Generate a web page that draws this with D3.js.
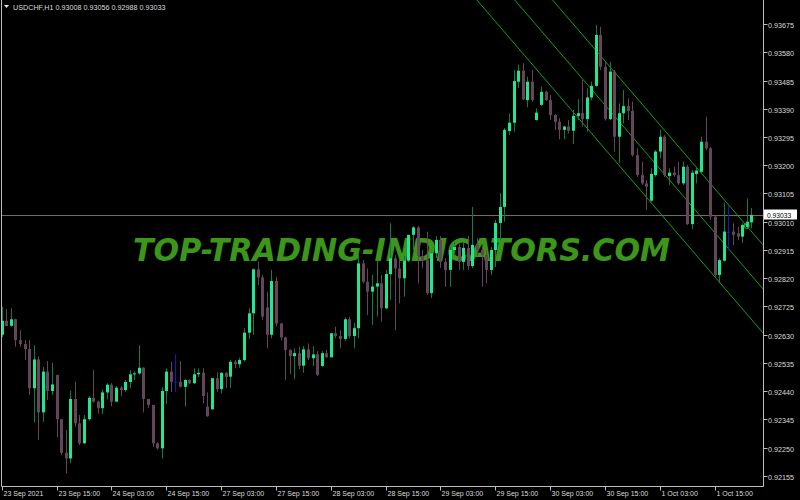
<!DOCTYPE html>
<html><head><meta charset="utf-8">
<script src="https://cdn.jsdelivr.net/npm/d3@7"></script>
<style>html,body{margin:0;padding:0;background:#000;}svg{display:block;}</style>
</head><body>
<svg id="chart" width="800" height="500"></svg>
<script>
// ---------- DATA ----------
const symbol = "USDCHF,H1";
const opens = [0.92630,0.92677,0.92660,0.92682,0.92612,0.92599,0.92582,0.92450,0.92547,0.92369,
0.92506,0.92441,0.92495,0.92346,0.92233,0.92214,0.92414,0.92332,0.92265,0.92346,
0.92418,0.92405,0.92383,0.92436,0.92462,0.92405,0.92452,0.92444,0.92471,0.92497,
0.92500,0.92519,0.92414,0.92394,0.92265,0.92248,0.92441,0.92506,0.92472,0.92472,
0.92455,0.92478,0.92467,0.92497,0.92502,0.92388,0.92379,0.92484,0.92447,0.92502,
0.92489,0.92539,0.92531,0.92545,0.92637,0.92702,0.92850,0.92823,0.92722,0.92630,
0.92811,0.92668,0.92621,0.92579,0.92558,0.92568,0.92526,0.92581,0.92551,0.92564,
0.92525,0.92568,0.92554,0.92635,0.92626,0.92616,0.92682,0.92626,0.92652,0.92870,
0.92808,0.92775,0.92792,0.92803,0.92719,0.92834,0.92887,0.92853,0.92820,0.92879,
0.92966,0.92991,0.92895,0.92881,0.92770,0.92904,0.92949,0.92875,0.92848,0.92915,
0.92925,0.92875,0.92922,0.92861,0.92932,0.92915,0.92898,0.92848,0.92915,0.93006,
0.93060,0.93315,0.93343,0.93481,0.93518,0.93419,0.93481,0.93352,0.93403,0.93447,
0.93419,0.93369,0.93346,0.93319,0.93330,0.93316,0.93366,0.93375,0.93355,0.93428,
0.93467,0.93638,0.93531,0.93355,0.93515,0.93296,0.93375,0.93399,0.93383,0.93234,
0.93167,0.93139,0.93081,0.93167,0.93246,0.93296,0.93164,0.93175,0.93167,0.93139,
0.93195,0.93002,0.93171,0.93178,0.93279,0.93257,0.93027,0.92831,0.92879,0.92976,
0.92977,0.92971,0.92960,0.92993,0.93008];
const highs = [0.92724,0.92717,0.92719,0.92684,0.92646,0.92612,0.92612,0.92595,0.92558,0.92522,
0.92542,0.92536,0.92495,0.92346,0.92310,0.92442,0.92472,0.92360,0.92360,0.92424,
0.92511,0.92408,0.92446,0.92467,0.92467,0.92458,0.92458,0.92478,0.92511,0.92506,
0.92595,0.92521,0.92414,0.92394,0.92269,0.92453,0.92517,0.92539,0.92564,0.92542,
0.92480,0.92480,0.92517,0.92517,0.92517,0.92436,0.92484,0.92504,0.92504,0.92504,
0.92545,0.92545,0.92553,0.92652,0.92719,0.92853,0.92876,0.92831,0.92775,0.92848,
0.92825,0.92670,0.92624,0.92581,0.92584,0.92590,0.92592,0.92601,0.92592,0.92575,
0.92575,0.92579,0.92636,0.92657,0.92646,0.92689,0.92691,0.92670,0.92909,0.92881,
0.92853,0.92831,0.92881,0.92831,0.92848,0.93005,0.92898,0.92881,0.92895,0.92966,
0.92995,0.92995,0.92915,0.92977,0.92908,0.92962,0.92962,0.92888,0.92925,0.92942,
0.92935,0.92939,0.92962,0.93060,0.92955,0.92925,0.92915,0.92925,0.93016,0.93107,
0.93325,0.93375,0.93520,0.93539,0.93543,0.93498,0.93520,0.93391,0.93464,0.93451,
0.93436,0.93372,0.93358,0.93332,0.93352,0.93386,0.93422,0.93487,0.93459,0.93481,
0.93672,0.93666,0.93548,0.93548,0.93520,0.93408,0.93453,0.93425,0.93414,0.93257,
0.93212,0.93150,0.93190,0.93251,0.93319,0.93302,0.93190,0.93195,0.93212,0.93212,
0.93201,0.93184,0.93195,0.93296,0.93363,0.93262,0.93033,0.92887,0.93074,0.93066,
0.93005,0.92993,0.93005,0.93089,0.93056];
const lows = [0.92622,0.92659,0.92657,0.92590,0.92590,0.92545,0.92427,0.92334,0.92276,0.92337,
0.92411,0.92427,0.92285,0.92225,0.92164,0.92198,0.92321,0.92259,0.92263,0.92341,
0.92402,0.92366,0.92363,0.92413,0.92390,0.92405,0.92424,0.92438,0.92450,0.92478,
0.92495,0.92369,0.92383,0.92253,0.92244,0.92214,0.92397,0.92438,0.92438,0.92453,
0.92388,0.92464,0.92464,0.92488,0.92400,0.92354,0.92379,0.92438,0.92433,0.92450,
0.92451,0.92517,0.92519,0.92539,0.92615,0.92630,0.92797,0.92680,0.92584,0.92618,
0.92657,0.92610,0.92478,0.92498,0.92480,0.92514,0.92502,0.92545,0.92525,0.92491,
0.92522,0.92554,0.92554,0.92618,0.92584,0.92609,0.92618,0.92584,0.92618,0.92803,
0.92696,0.92663,0.92691,0.92674,0.92716,0.92747,0.92646,0.92736,0.92758,0.92875,
0.92915,0.92803,0.92854,0.92764,0.92754,0.92888,0.92854,0.92791,0.92791,0.92895,
0.92848,0.92848,0.92848,0.92854,0.92895,0.92791,0.92803,0.92831,0.92858,0.92949,
0.93010,0.93302,0.93313,0.93459,0.93419,0.93395,0.93414,0.93350,0.93399,0.93416,
0.93352,0.93319,0.93287,0.93287,0.93307,0.93271,0.93352,0.93330,0.93313,0.93419,
0.93464,0.93520,0.93350,0.93352,0.93246,0.93207,0.93341,0.93352,0.93229,0.93161,
0.93134,0.93050,0.93077,0.93161,0.93223,0.93161,0.93134,0.93161,0.93134,0.93134,
0.92999,0.92985,0.93139,0.93175,0.93251,0.93016,0.92825,0.92803,0.92876,0.92915,
0.92932,0.92949,0.92938,0.92988,0.92988];
const closes = [0.92677,0.92660,0.92682,0.92612,0.92599,0.92582,0.92450,0.92547,0.92369,0.92506,
0.92441,0.92463,0.92346,0.92233,0.92214,0.92414,0.92332,0.92265,0.92346,0.92418,
0.92405,0.92383,0.92436,0.92462,0.92405,0.92452,0.92444,0.92471,0.92497,0.92500,
0.92519,0.92414,0.92394,0.92265,0.92248,0.92441,0.92506,0.92472,0.92472,0.92455,
0.92478,0.92467,0.92497,0.92502,0.92424,0.92356,0.92484,0.92447,0.92502,0.92488,
0.92539,0.92531,0.92545,0.92637,0.92702,0.92850,0.92823,0.92691,0.92630,0.92811,
0.92668,0.92621,0.92579,0.92558,0.92568,0.92526,0.92581,0.92551,0.92564,0.92495,
0.92568,0.92554,0.92635,0.92626,0.92616,0.92682,0.92626,0.92652,0.92870,0.92808,
0.92775,0.92792,0.92803,0.92719,0.92834,0.92887,0.92853,0.92820,0.92879,0.92966,
0.92991,0.92895,0.92881,0.92770,0.92904,0.92949,0.92875,0.92848,0.92915,0.92925,
0.92875,0.92922,0.92861,0.92932,0.92915,0.92898,0.92848,0.92915,0.93006,0.93060,
0.93319,0.93343,0.93483,0.93518,0.93422,0.93481,0.93419,0.93377,0.93447,0.93419,
0.93369,0.93346,0.93319,0.93330,0.93316,0.93366,0.93375,0.93355,0.93428,0.93467,
0.93638,0.93531,0.93355,0.93515,0.93296,0.93375,0.93399,0.93383,0.93234,0.93167,
0.93139,0.93128,0.93171,0.93246,0.93296,0.93167,0.93175,0.93167,0.93139,0.93195,
0.93002,0.93175,0.93182,0.93279,0.93257,0.93027,0.92831,0.92881,0.92977,0.92976,
0.92966,0.92960,0.92999,0.93010,0.93033];
const xTickLabels = ["23 Sep 2021","23 Sep 15:00","24 Sep 03:00","24 Sep 15:00","27 Sep 03:00",
"27 Sep 15:00","28 Sep 03:00","28 Sep 15:00","29 Sep 03:00","29 Sep 15:00","30 Sep 03:00",
"30 Sep 15:00","1 Oct 03:00","1 Oct 15:00"];
const barsPerTick = 12;
const yTickValues = [0.92155,0.92250,0.92345,0.92440,0.92535,0.92630,0.92725,0.92820,0.92915,
0.93010,0.93105,0.93200,0.93295,0.93390,0.93485,0.93580,0.93675];
const channelBars = [120, 164];
const channelMid = [0.93617, 0.92830];
const channelHalfWidth = 0.00148;
const markerBar = 163, markerPrice = 0.92996;
const watermark = "TOP-TRADING-INDICATORS.COM";

// ---------- LAYOUT ----------
const svg = d3.select("#chart");
const plotL = 1.5, plotR = 763.5, plotT = -1, plotB = 486.5;
const n = closes.length;
const x = d3.scaleLinear().domain([0, n - 1]).range([1.7, 751.3]);
const y = d3.scaleLinear().domain([0.92155, 0.93675]).range([476, 24]);
const fmt = d3.format(".5f");
const txtCol = "#dadada";
const font = "'Liberation Sans', Arial, sans-serif";

svg.append("rect").attr("width", 800).attr("height", 500).attr("fill", "#000");

svg.append("defs").append("clipPath").attr("id", "plot")
  .append("rect").attr("x", 0).attr("y", 0).attr("width", plotR).attr("height", plotB);

// watermark
svg.append("text").attr("x", 133).attr("y", 261)
  .attr("font-family", "'DejaVu Sans', sans-serif").attr("font-weight", "bold")
  .attr("font-style", "italic").attr("font-size", 31.5)
  .attr("textLength", 537).attr("lengthAdjust", "spacingAndGlyphs")
  .attr("fill", "#3c9619").text(watermark);

// bid line
const last = closes[n - 1];
svg.append("line").attr("x1", plotL).attr("x2", plotR)
  .attr("y1", Math.round(y(last)) + 0.5).attr("y2", Math.round(y(last)) + 0.5)
  .attr("stroke", "#766868").attr("stroke-width", 1);

// channel
const g = svg.append("g").attr("clip-path", "url(#plot)");
const slope = (channelMid[1] - channelMid[0]) / (channelBars[1] - channelBars[0]);
const xEnd = x.invert(plotR);
[-1, 0, 1].forEach(k => {
  const p = b => channelMid[0] + (b - channelBars[0]) * slope + k * channelHalfWidth;
  const b0 = channelBars[0] - 30;
  g.append("line").attr("x1", x(b0)).attr("y1", y(p(b0)))
    .attr("x2", x(xEnd)).attr("y2", y(p(xEnd)))
    .attr("stroke", "#16a016").attr("stroke-width", 1);
});

// frame
svg.append("path")
  .attr("d", `M${plotL},${plotT}V${plotB}H${plotR}V${plotT}`)
  .attr("fill", "none").attr("stroke", "#bdbdbd").attr("stroke-width", 1);

// candles
const idx = d3.range(n);
const cg = g.append("g");
const bullBody = "#1ee894", bullWick = "#0f7a4c", bear = "#63465a", doji = "#1818b8";
const col = i => closes[i] > opens[i] ? "bull" : (closes[i] < opens[i] ? "bear" : "doji");
cg.selectAll("line.w").data(idx).enter().append("line")
  .attr("x1", i => Math.round(x(i)) + 0.5).attr("x2", i => Math.round(x(i)) + 0.5)
  .attr("y1", i => y(highs[i])).attr("y2", i => y(lows[i]))
  .attr("stroke", i => col(i) === "bull" ? bullWick : col(i) === "bear" ? bear : doji)
  .attr("stroke-width", 1);
cg.selectAll("rect.b").data(idx).enter().append("rect")
  .attr("x", i => Math.round(x(i)) - 1)
  .attr("width", 3)
  .attr("y", i => Math.min(y(opens[i]), y(closes[i])))
  .attr("height", i => Math.max(1, Math.abs(y(opens[i]) - y(closes[i]))))
  .attr("fill", i => col(i) === "bull" ? bullBody : col(i) === "bear" ? bear : doji);

// marker
svg.append("circle").attr("cx", x(markerBar)).attr("cy", y(markerPrice)).attr("r", 2.5)
  .attr("fill", "none").attr("stroke", "#2fbf2f").attr("stroke-width", 1);

// y axis ticks & labels
yTickValues.forEach(v => {
  const yy = Math.round(y(v)) + 0.5;
  svg.append("line").attr("x1", plotR).attr("x2", plotR + 4).attr("y1", yy).attr("y2", yy)
    .attr("stroke", "#bdbdbd");
  svg.append("text").attr("transform", `translate(768,${yy + 3}) scale(0.9,1)`)
    .attr("font-family", font).attr("font-size", 8).attr("fill", txtCol).text(fmt(v));
});

// last price label
const ly = Math.round(y(last)) + 0.5;
svg.append("rect").attr("x", 764).attr("y", ly - 6).attr("width", 33).attr("height", 10)
  .attr("fill", "#ffffff");
svg.append("text").attr("transform", `translate(767,${ly + 2.5}) scale(0.9,1)`)
  .attr("font-family", font).attr("font-size", 7.5).attr("fill", "#000").text(fmt(last));

// x axis ticks & labels
xTickLabels.forEach((lab, k) => {
  const xx = Math.round(x(k * barsPerTick)) + 0.5;
  svg.append("line").attr("x1", xx).attr("x2", xx).attr("y1", plotB).attr("y2", plotB + 4)
    .attr("stroke", "#bdbdbd");
  svg.append("text").attr("transform", `translate(${xx + 1},496) scale(0.88,1)`)
    .attr("font-family", font).attr("font-size", 8).attr("fill", txtCol).text(lab);
});

// title
svg.append("path").attr("d", "M4,5 L9,5 L6.5,8 Z").attr("fill", "#e0e0e0");
svg.append("text").attr("transform", "translate(13,9.5) scale(0.9,1)")
  .attr("font-family", font).attr("font-size", 8).attr("fill", txtCol)
  .text(`${symbol}  ${fmt(opens[n-1])} ${fmt(highs[n-1])} ${fmt(lows[n-1])} ${fmt(closes[n-1])}`);
</script>
</body></html>
